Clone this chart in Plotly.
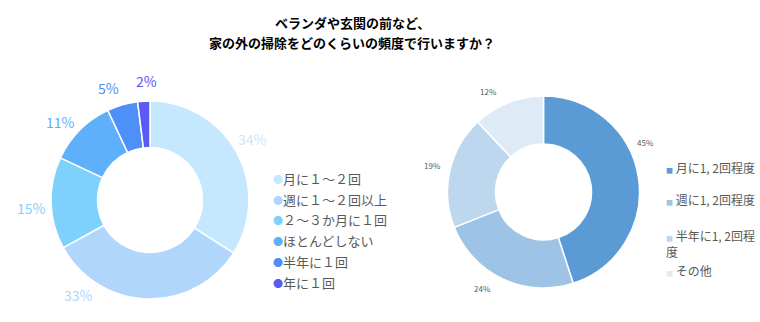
import math
import plotly.graph_objects as go

title_lines = ["ベランダや玄関の前など、", "家の外の掃除をどのくらいの頻度で行いますか？"]

left_labels = ["月に１～２回", "週に１～２回以上", "２～３か月に１回", "ほとんどしない", "半年に１回", "年に１回"]
left_values = [34, 33, 15, 11, 5, 2]
left_colors = ["#c6e8fe", "#b0d6fc", "#7fd1fd", "#5fb0fb", "#4f8ff8", "#5a5af5"]

right_labels = ["月に1, 2回程度", "週に1, 2回程度", "半年に1, 2回程<br>度", "その他"]
right_values = [45, 24, 19, 12]
right_colors = ["#5b9bd5", "#9dc3e6", "#bdd7ee", "#deebf7"]

W, H = 760, 322
FONT = "Noto Sans CJK JP"

# pie geometry (pixels): center x, center y (from top), radius
LEFT_GEOM = (150, 200, 99)
RIGHT_GEOM = (543.5, 192, 96)
# label placement style: radial distance and angle nudges (degrees)
LEFT_LABEL_R = 119
LEFT_ANGLE_NUDGE = [-2, 35, -2, -4, -4, 2]
RIGHT_LABEL_R = 114
RIGHT_ANGLE_NUDGE = [-17, 7, 1, -7]


def domain(geom):
    cx, cy, r = geom
    return dict(x=[(cx - r) / W, (cx + r) / W], y=[(H - cy - r) / H, (H - cy + r) / H])


def label_annots(values, geom, rlab, nudges, colors, size):
    cx, cy, _ = geom
    total = sum(values)
    out = []
    cum = 0
    for v, nd, col in zip(values, nudges, colors):
        mid = (cum + v / 2) / total * 360 + nd
        cum += v
        th = math.radians(mid)
        px = cx + rlab * math.sin(th)
        py = cy - rlab * math.cos(th)
        out.append(dict(
            text=f"{v}%", x=px / W, y=1 - py / H, xref="paper", yref="paper",
            xanchor="center", yanchor="middle", showarrow=False,
            font=dict(family=FONT, size=size, color=col),
        ))
    return out


fig = go.Figure()

fig.add_trace(go.Pie(
    values=left_values, labels=left_labels, sort=False, direction="clockwise",
    hole=0.53, marker=dict(colors=left_colors, line=dict(color="white", width=1.5)),
    textinfo="none", domain=domain(LEFT_GEOM), showlegend=False,
))

fig.add_trace(go.Pie(
    values=right_values, labels=right_labels, sort=False, direction="clockwise",
    hole=0.5, marker=dict(colors=right_colors, line=dict(color="white", width=1.5)),
    textinfo="none", domain=domain(RIGHT_GEOM), showlegend=False,
))

annotations = []
for i, line in enumerate(title_lines):
    annotations.append(dict(
        text=line, x=352 / W, y=1 - (23 + 20 * i) / H, xref="paper", yref="paper",
        xanchor="center", yanchor="middle", showarrow=False,
        font=dict(family=FONT, size=13, color="#000000", weight="bold"),
    ))

annotations += label_annots(left_values, LEFT_GEOM, LEFT_LABEL_R, LEFT_ANGLE_NUDGE, left_colors, 14)
annotations += label_annots(right_values, RIGHT_GEOM, RIGHT_LABEL_R, RIGHT_ANGLE_NUDGE,
                            ["#595959"] * len(right_values), 8)

for i, (lab, col) in enumerate(zip(left_labels, left_colors)):
    annotations.append(dict(
        text=f"<span style='color:{col};font-size:10px'>●</span>{lab}",
        x=271 / W, y=1 - (178.5 + 20.7 * i) / H, xref="paper", yref="paper",
        xanchor="left", yanchor="middle", showarrow=False,
        font=dict(family=FONT, size=13, color="#595959"),
    ))

right_y = [167, 200, 243.5, 270]
for i, (lab, col) in enumerate(zip(right_labels, right_colors)):
    annotations.append(dict(
        text=f"<span style='color:{col};font-size:7px'>■</span> {lab}",
        x=664 / W, y=1 - right_y[i] / H, xref="paper", yref="paper",
        xanchor="left", yanchor="middle", align="left", showarrow=False,
        font=dict(family=FONT, size=12, color="#595959"),
    ))

fig.update_layout(
    width=W, height=H, margin=dict(l=0, r=0, t=0, b=0),
    paper_bgcolor="white", plot_bgcolor="white",
    annotations=annotations,
)

fig.write_html("out.html")
